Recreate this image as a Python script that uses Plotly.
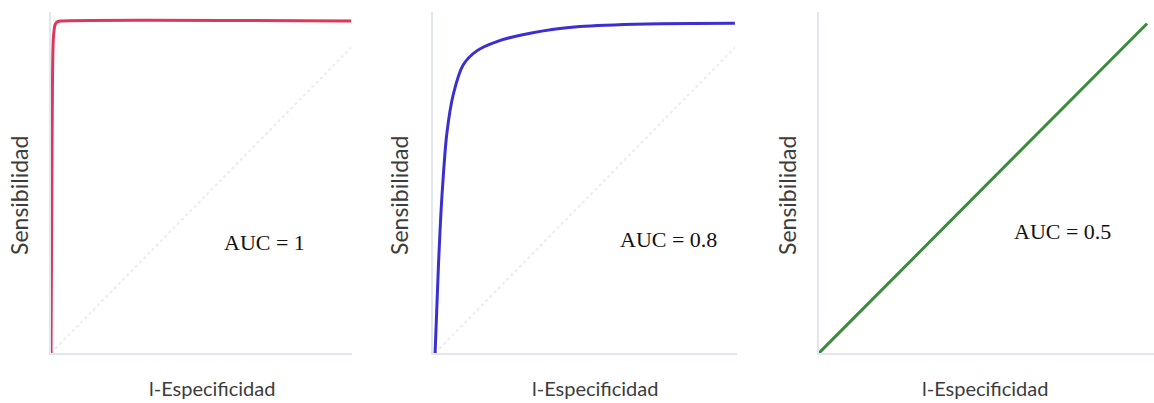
import plotly.graph_objects as go

W, H = 1154, 403

# ROC curves (1-Especificidad, Sensibilidad)
perfect_fpr = [0.0, 0.004, 0.008, 0.014, 0.022, 0.035, 1.0]
perfect_tpr = [0.0, 0.70, 0.95, 0.99, 0.998, 1.0, 1.0]

good_fpr = [0.0, 0.011, 0.022, 0.039, 0.061, 0.094, 0.139, 0.206, 0.317, 0.483, 0.706, 1.0]
good_tpr = [0.0, 0.26, 0.46, 0.66, 0.78, 0.868, 0.910, 0.938, 0.963, 0.983, 0.991, 0.993]

random_fpr = [0.0, 1.0]
random_tpr = [0.0, 1.0]

# faint reference diagonal
ref_fpr = [0.0, 1.0]
ref_tpr = [0.0, 0.92]

auc_labels = ["AUC = 1", "AUC = 0.8", "AUC = 0.5"]
x_title = "l-Especificidad"
y_title = "Sensibilidad"

colors = ["#e0365c", "#3b30cf", "#3a8c3a"]


def px_x(p):
    return p / W


def px_y(p):
    return 1 - p / H


fig = go.Figure()

# panel domains in pixels: (left, right)
x_dom = [(51, 352), (433, 737), (819, 1154)]
y_dom = (353, 12)
x_ranges = [[0, 1.003], [-0.007, 1.007], [0, 1.021]]
y_ranges = [[0, 1.027], [0, 1.027], [0, 1.035]]

series = [(perfect_fpr, perfect_tpr), (good_fpr, good_tpr), (random_fpr, random_tpr)]

for i in range(3):
    xa = "x" if i == 0 else f"x{i+1}"
    ya = "y" if i == 0 else f"y{i+1}"
    if i < 2:
        fig.add_trace(go.Scatter(
            x=ref_fpr, y=ref_tpr, mode="lines", xaxis=xa, yaxis=ya,
            line=dict(color="#ececec", width=2, dash="dot"),
            showlegend=False, hoverinfo="skip"))
    fx, fy = series[i]
    fig.add_trace(go.Scatter(
        x=fx, y=fy, mode="lines", xaxis=xa, yaxis=ya,
        line=dict(color=colors[i], width=3, shape="spline", smoothing=0.8),
        showlegend=False))

layout = dict(
    width=W, height=H,
    margin=dict(l=0, r=0, t=0, b=0),
    paper_bgcolor="white", plot_bgcolor="white",
)

axis_common = dict(showgrid=False, zeroline=False, showticklabels=False,
                   ticks="", showline=True, linecolor="#e2e7ef", linewidth=2)

for i in range(3):
    key_x = "xaxis" if i == 0 else f"xaxis{i+1}"
    key_y = "yaxis" if i == 0 else f"yaxis{i+1}"
    anchor_x = "x" if i == 0 else f"x{i+1}"
    anchor_y = "y" if i == 0 else f"y{i+1}"
    layout[key_x] = dict(axis_common, domain=[px_x(x_dom[i][0]), px_x(x_dom[i][1])],
                         range=x_ranges[i], anchor=anchor_y)
    layout[key_y] = dict(axis_common, domain=[px_y(y_dom[0]), px_y(y_dom[1])],
                         range=y_ranges[i], anchor=anchor_x)

fig.update_layout(**layout)

sans_x = dict(family="Lato", size=20, color="#3c3c3c")
sans_y = dict(family="Lato", size=23, color="#3c3c3c")
serif = dict(family="Liberation Serif", size=22, color="#111111")

y_title_x = [19, 399, 787]
x_title_x = [212, 595, 985]
auc_pos = [(264, 242), (668, 240), (1062, 231)]

for i in range(3):
    fig.add_annotation(text=y_title, xref="paper", yref="paper",
                       x=px_x(y_title_x[i]), y=px_y(196), textangle=-90,
                       showarrow=False, font=sans_y, xanchor="center", yanchor="middle")
    fig.add_annotation(text=x_title, xref="paper", yref="paper",
                       x=px_x(x_title_x[i]), y=px_y(388), showarrow=False,
                       font=sans_x, xanchor="center", yanchor="middle")
    fig.add_annotation(text=auc_labels[i], xref="paper", yref="paper",
                       x=px_x(auc_pos[i][0]), y=px_y(auc_pos[i][1]), showarrow=False,
                       font=serif, xanchor="center", yanchor="middle")

fig.write_html("out.html")
